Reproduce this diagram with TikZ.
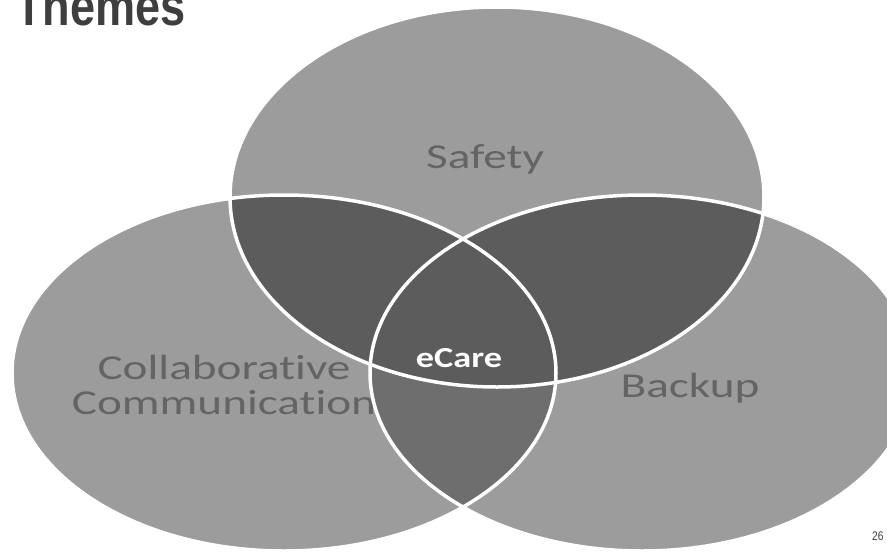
\documentclass[tikz,border=0pt]{standalone}
\usepackage{fontspec}
\setmainfont{Carlito}
\newfontfamily\labelfont[Ligatures=NoCommon]{Carlito}
\newfontfamily\titlefont{Liberation Sans}
\usetikzlibrary{positioning}

\definecolor{venngray}{RGB}{156,156,156}
\definecolor{venndark}{RGB}{92,92,92}
\definecolor{vennmid}{RGB}{110,110,110}
\definecolor{labelgray}{RGB}{100,100,100}
\definecolor{titlegray}{RGB}{62,62,62}

\newcommand{\safetypath}{(497,197) ellipse [x radius=267pt, y radius=190pt]}
\newcommand{\collabpath}{(284,373) ellipse [x radius=272pt, y radius=178pt]}
\newcommand{\backuppath}{(642,373) ellipse [x radius=272pt, y radius=178pt]}

\tikzset{
    themelabel/.style={text=labelgray, inner sep=0pt, xscale=1.35, font=\labelfont\fontsize{35}{35}\selectfont},
    outline/.style={draw=white, line width=3.5pt}
}

\begin{document}
\begin{tikzpicture}[x=1pt, y=-1pt]
    \clip (0,0) rectangle (887,552);
    % the three circles
    \fill[venngray] \safetypath;
    \fill[venngray] \collabpath;
    \fill[venngray] \backuppath;
    % overlaps
    \begin{scope}
        \clip \collabpath;
        \fill[vennmid] \backuppath;
    \end{scope}
    \begin{scope}
        \clip \safetypath;
        \fill[venndark] \collabpath;
        \fill[venndark] \backuppath;
    \end{scope}
    % labels
    \node[themelabel, anchor=base] (safety) at (485,168) {Safety};
    \node[themelabel, anchor=base] (collab) at (224,379) {Collaborative};
    \node[themelabel, anchor=base] (commun) at (224,414) {Communication};
    \node[themelabel, anchor=base] (backup) at (690,397) {Backup};
    % white rims
    \draw[outline] \safetypath;
    \draw[outline] \collabpath;
    \draw[outline] \backuppath;
    \node[anchor=base, inner sep=0pt, xscale=1.25, text=white, font=\bfseries\fontsize{29}{30}\selectfont] (ecare) at (459,367) {eCare};
    % heading and page number
    \node[anchor=base west, inner sep=0pt, xscale=0.82, text=titlegray, font=\titlefont\bfseries\fontsize{55}{60}\selectfont] (title) at (15,25) {Themes};
    \node[anchor=base west, inner sep=0pt, xscale=0.82, text=titlegray, font=\titlefont\fontsize{12.5}{13}\selectfont] (page) at (872,540) {26};
\end{tikzpicture}
\end{document}
